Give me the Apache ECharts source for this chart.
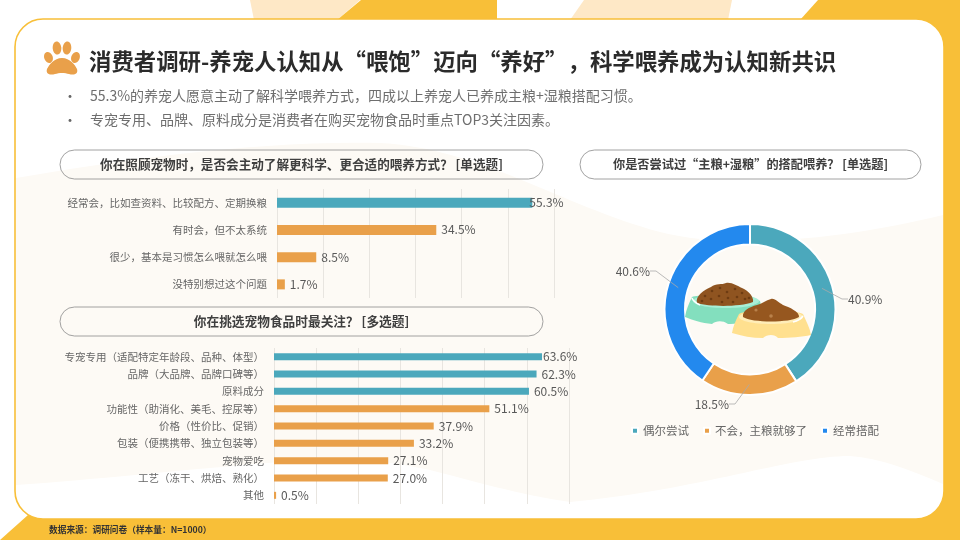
<!DOCTYPE html>
<html>
<head>
<meta charset="utf-8">
<title>消费者调研</title>
<style>
  html, body { margin: 0; padding: 0; background: #fff; }
  #main { width: 960px; height: 540px; }
</style>
<script src="https://cdn.jsdelivr.net/npm/echarts@6/dist/echarts.min.js"></script>
</head>
<body>
<div id="main"></div>
<script>
const FONT = '"Noto Sans CJK SC", "Noto Sans", sans-serif';
const TEAL = "#4BA8BC";
const ORANGE = "#E9A04A";
const BLUE = "#2389EE";
const YELLOW = "#F8BF38";

const titleText = "消费者调研-养宠人认知从“喂饱”迈向“养好”，科学喂养成为认知新共识";
const bulletLines = [
  "55.3%的养宠人愿意主动了解科学喂养方式，四成以上养宠人已养成主粮+湿粮搭配习惯。",
  "专宠专用、品牌、原料成分是消费者在购买宠物食品时重点TOP3关注因素。",
];
const sourceText = "数据来源：调研问卷（样本量：N=1000）";

const question1 = "你在照顾宠物时，是否会主动了解更科学、更合适的喂养方式？ [单选题]";
const question2 = "你在挑选宠物食品时最关注？ [多选题]";
const question3 = "你是否尝试过“主粮+湿粮”的搭配喂养？ [单选题]";

const careCategories = [
  "经常会，比如查资料、比较配方、定期换粮",
  "有时会，但不太系统",
  "很少，基本是习惯怎么喂就怎么喂",
  "没特别想过这个问题",
];
const careValues = [55.3, 34.5, 8.5, 1.7];

const focusCategories = [
  "专宠专用（适配特定年龄段、品种、体型）",
  "品牌（大品牌、品牌口碑等）",
  "原料成分",
  "功能性（助消化、美毛、控尿等）",
  "价格（性价比、促销）",
  "包装（便携携带、独立包装等）",
  "宠物爱吃",
  "工艺（冻干、烘焙、熟化）",
  "其他",
];
const focusValues = [63.6, 62.3, 60.5, 51.1, 37.9, 33.2, 27.1, 27.0, 0.5];

const mixNames = ["偶尔尝试", "不会，主粮就够了", "经常搭配"];
const mixValues = [40.9, 18.5, 40.6];

// graphic 组件不支持 type: "path"，这里注册成自定义图形
let shapeCount = 0;
function svgShape(d, z, style) {
  const name = "svgShape" + shapeCount++;
  echarts.graphic.registerShape(name, echarts.graphic.extendPath(d));
  return { type: name, z: z, style: style };
}

function pill(x, y, w, h, text, size) {
  return [
    {
      type: "rect",
      z: 1,
      shape: { x: x, y: y, width: w, height: h, r: h / 2 },
      style: { fill: "none", stroke: "#8a8a8a", lineWidth: 0.8 },
    },
    {
      type: "text",
      z: 2,
      style: {
        x: x + w / 2,
        y: y + h / 2,
        text: text,
        fill: "#3f3f3f",
        font: "bold " + size + "px " + FONT,
        textAlign: "center",
        textVerticalAlign: "middle",
      },
    },
  ];
}

// 页面底板：黄色块、卡片、浅色波浪
const backdrop = [
  { type: "rect", z: -10, shape: { x: 900, y: 0, width: 60, height: 540 }, style: { fill: YELLOW } },
  { type: "polygon", z: -10, shape: { points: [[0, 540], [28, 515], [960, 515], [960, 540]] }, style: { fill: YELLOW } },
  { type: "polygon", z: -10, shape: { points: [[250, 0], [360, 0], [337, 20], [254, 20]] }, style: { fill: "#FEE8C6" } },
  { type: "polygon", z: -10, shape: { points: [[361, 0], [497, 0], [497, 20], [337, 20]] }, style: { fill: YELLOW } },
  { type: "polygon", z: -10, shape: { points: [[584, 0], [732, 0], [728, 20], [570, 20]] }, style: { fill: "#FEE8C6" } },
  { type: "polygon", z: -10, shape: { points: [[818, 0], [960, 0], [960, 20], [800, 20]] }, style: { fill: YELLOW } },
  {
    type: "rect",
    z: -9,
    shape: { x: 15, y: 19, width: 929, height: 500, r: 28 },
    style: { fill: "#fff", stroke: YELLOW, lineWidth: 1.6 },
  },
  svgShape(
    "M16 178 C120 160 260 140 380 143 C480 148 560 205 660 232 C730 250 840 240 943 215 " +
      "L943 484 C910 470 880 458 850 456 C790 456 700 490 570 502 C520 495 470 480 430 470 " +
      "C360 455 320 456 280 462 C180 470 90 480 16 485 Z",
    -8,
    { fill: "#FDFAF5" }
  ),
];

// 爪印图标
const pawIcon = [
  { type: "ellipse", z: 3, x: 48.5, y: 57.5, rotation: 0.4, shape: { cx: 0, cy: 0, rx: 4.2, ry: 5.6 }, style: { fill: ORANGE } },
  { type: "ellipse", z: 3, x: 57, y: 48, rotation: 0.1, shape: { cx: 0, cy: 0, rx: 4.3, ry: 6.6 }, style: { fill: ORANGE } },
  { type: "ellipse", z: 3, x: 67, y: 48, rotation: -0.1, shape: { cx: 0, cy: 0, rx: 4.3, ry: 6.6 }, style: { fill: ORANGE } },
  { type: "ellipse", z: 3, x: 75.5, y: 57.5, rotation: -0.4, shape: { cx: 0, cy: 0, rx: 4.2, ry: 5.6 }, style: { fill: ORANGE } },
  svgShape("M62 58 C70 58 75 65 77 69 C78.5 74 74 75.5 69 74 C65 72.5 59 72.5 55 74 C50 75.5 45.5 74 47 69 C49 65 54 58 62 58 Z", 3, { fill: ORANGE }),
];

// 圆环中间的两只食盆
const kibbleDots = [
  [705, 296], [712, 291], [720, 288], [727, 292], [735, 289], [742, 293], [711, 299], [719, 296],
  [728, 298], [737, 297], [745, 299], [722, 302], [733, 302], [702, 301], [749, 298],
];
const bowlArt = [
  svgShape("M692 297 C700 294 752 296 760 301 C762 306 758 312 755 318 C748 322 735 324 728 324 C722 320 716 321 712 324 C702 323 692 320 685 317 C686 310 689 303 692 297 Z", 5, { fill: "#83DFBE" }),
  { type: "ellipse", z: 5, shape: { cx: 726, cy: 301, rx: 33, ry: 7 }, style: { fill: "#A9EFD6" } },
  svgShape("M697 303 C695 296 704 290 711 287 C716 283 722 285 726 283 C732 282 737 286 742 288 C749 291 754 297 753 302 C740 307 710 307 697 303 Z", 6, { fill: "#8F5420" }),
  svgShape("M739 314 C748 309 797 310 803 314 C806 321 810 328 811 335 C802 337 790 338 778 338 C775 334 767 334 763 338 C752 338 742 336 732 333 C733 326 736 320 739 314 Z", 7, { fill: "#FFE08F" }),
  { type: "ellipse", z: 7, shape: { cx: 771, cy: 317, rx: 32, ry: 7 }, style: { fill: "#FFEDB8" } },
  svgShape("M743 317 C742 311 749 307 757 305 C762 304 766 300 771 299 C775 298 779 303 783 305 C789 307 800 312 799 317 C790 323 752 323 743 317 Z", 8, { fill: "#96571F" }),
  { type: "circle", z: 9, shape: { cx: 756, cy: 310, r: 1.6 }, style: { fill: "#B9814A" } },
  { type: "circle", z: 9, shape: { cx: 771, cy: 316, r: 1.8 }, style: { fill: "#B9814A" } },
  svgShape("M793 322 C797 321 801 319 803 316", 9, { fill: "none", stroke: "#fff", lineWidth: 1.5 }),
  svgShape("M692 298 C693 301 696 303 700 305", 6, { fill: "none", stroke: "#fff", lineWidth: 1.5 }),
].concat(
  kibbleDots.map(function (d) {
    return { type: "circle", z: 7, shape: { cx: d[0], cy: d[1], r: 1.3 }, style: { fill: "#6E3C12" } };
  })
);

const bulletTexts = [];
bulletLines.forEach(function (line, i) {
  const y = 96 + i * 24;
  bulletTexts.push({
    type: "text",
    z: 3,
    style: { x: 70, y: y, text: "•", fill: "#666", font: "14px " + FONT, textAlign: "center", textVerticalAlign: "middle" },
  });
  bulletTexts.push({
    type: "text",
    z: 3,
    style: { x: 90, y: y, text: line, fill: "#6e6e6e", font: "14px " + FONT, textVerticalAlign: "middle" },
  });
});

const sourceLabel = {
  type: "text",
  z: 3,
  style: { x: 49, y: 530, text: sourceText, fill: "#333", font: "bold 8.7px " + FONT, textVerticalAlign: "middle" },
};

function barColor(highlightCount) {
  return function (params) {
    return params.dataIndex < highlightCount ? TEAL : ORANGE;
  };
}

function percentLabel(params) {
  return params.value.toFixed(1) + "%";
}

// 环形图三个标签的落点
const pieLabelSpots = [
  { x: 843, y: 299, align: "left", verticalAlign: "middle" },
  { x: 734, y: 404, align: "right", verticalAlign: "middle" },
  { x: 655, y: 271, align: "right", verticalAlign: "middle" },
];

const chart = echarts.init(document.getElementById("main"));
const option = {
  animation: false,
  textStyle: { fontFamily: FONT },
  title: {
    text: titleText,
    left: 84,
    top: 45,
    textStyle: { fontSize: 22.4, fontWeight: "bold", color: "#2b2b2b", fontFamily: FONT },
  },
  grid: [
    { left: 277, width: 277, top: 189, height: 109 },
    { left: 274, width: 295, top: 348, height: 156 },
  ],
  xAxis: [
    {
      type: "value",
      gridIndex: 0,
      min: 0,
      max: 60,
      interval: 10,
      axisLabel: { show: false },
      axisLine: { show: false },
      axisTick: { show: false },
      splitLine: { lineStyle: { color: "#E8E5E0", width: 1 } },
    },
    {
      type: "value",
      gridIndex: 1,
      min: 0,
      max: 70,
      interval: 10,
      axisLabel: { show: false },
      axisLine: { show: false },
      axisTick: { show: false },
      splitLine: { lineStyle: { color: "#E8E5E0", width: 1 } },
    },
  ],
  yAxis: [
    {
      type: "category",
      gridIndex: 0,
      inverse: true,
      data: careCategories,
      axisLine: { show: false },
      axisTick: { show: false },
      axisLabel: { color: "#666", fontSize: 10.5, margin: 10 },
    },
    {
      type: "category",
      gridIndex: 1,
      inverse: true,
      data: focusCategories,
      axisLine: { show: false },
      axisTick: { show: false },
      axisLabel: { color: "#666", fontSize: 10.5, margin: 10 },
    },
  ],
  legend: {
    data: mixNames,
    left: 626,
    top: 420,
    icon: "rect",
    itemWidth: 6,
    itemHeight: 6,
    itemGap: 14,
    textStyle: { color: "#666", fontSize: 11.5 },
  },
  series: [
    {
      type: "bar",
      xAxisIndex: 0,
      yAxisIndex: 0,
      barWidth: 10,
      data: careValues.map(function (v, i) {
        // 最长的一条标签压在柱尾
        return i === 0 ? { value: v, label: { offset: [-8, 0] } } : v;
      }),
      itemStyle: { color: barColor(1) },
      label: { show: true, position: "right", distance: 5, color: "#595959", fontSize: 12, formatter: percentLabel },
    },
    {
      type: "bar",
      xAxisIndex: 1,
      yAxisIndex: 1,
      barWidth: 7,
      data: focusValues.map(function (v, i) {
        return i === 0 ? { value: v, label: { offset: [-4, 0] } } : v;
      }),
      itemStyle: { color: barColor(3) },
      label: { show: true, position: "right", distance: 5, color: "#595959", fontSize: 12, formatter: percentLabel },
    },
    {
      type: "pie",
      center: [750, 309.5],
      radius: [65, 85.5],
      startAngle: 90,
      silent: true,
      color: [TEAL, ORANGE, BLUE],
      itemStyle: { borderColor: "#fff", borderWidth: 2 },
      label: { show: false },
      labelLine: { show: false },
      data: mixNames.map(function (n, i) {
        return { name: n, value: mixValues[i] };
      }),
    },
    {
      // 透明的一层，只负责把引导线起点放到环的中间
      type: "pie",
      center: [750, 309.5],
      radius: [0, 75],
      startAngle: 90,
      silent: true,
      z: 4,
      itemStyle: { color: "transparent" },
      label: { show: true, color: "#595959", fontSize: 12, padding: [0, 5], formatter: "{c}%" },
      labelLine: { show: true, length: 18, length2: 6, lineStyle: { color: "#a9a9a9", width: 0.8 } },
      labelLayout: function (params) {
        return pieLabelSpots[params.dataIndex];
      },
      data: mixNames.map(function (n, i) {
        return { name: n, value: mixValues[i] };
      }),
    },
  ],
  graphic: {
    elements: [].concat(
      backdrop,
      pawIcon,
      bulletTexts,
      pill(60, 150, 483, 29, question1, 12.6),
      pill(60, 307, 483, 29, question2, 12.7),
      pill(580, 150, 341, 29, question3, 12.2),
      bowlArt,
      [sourceLabel]
    ),
  },
};
chart.setOption(option);
window.addEventListener("resize", function () {
  chart.resize();
});
</script>
</body>
</html>
